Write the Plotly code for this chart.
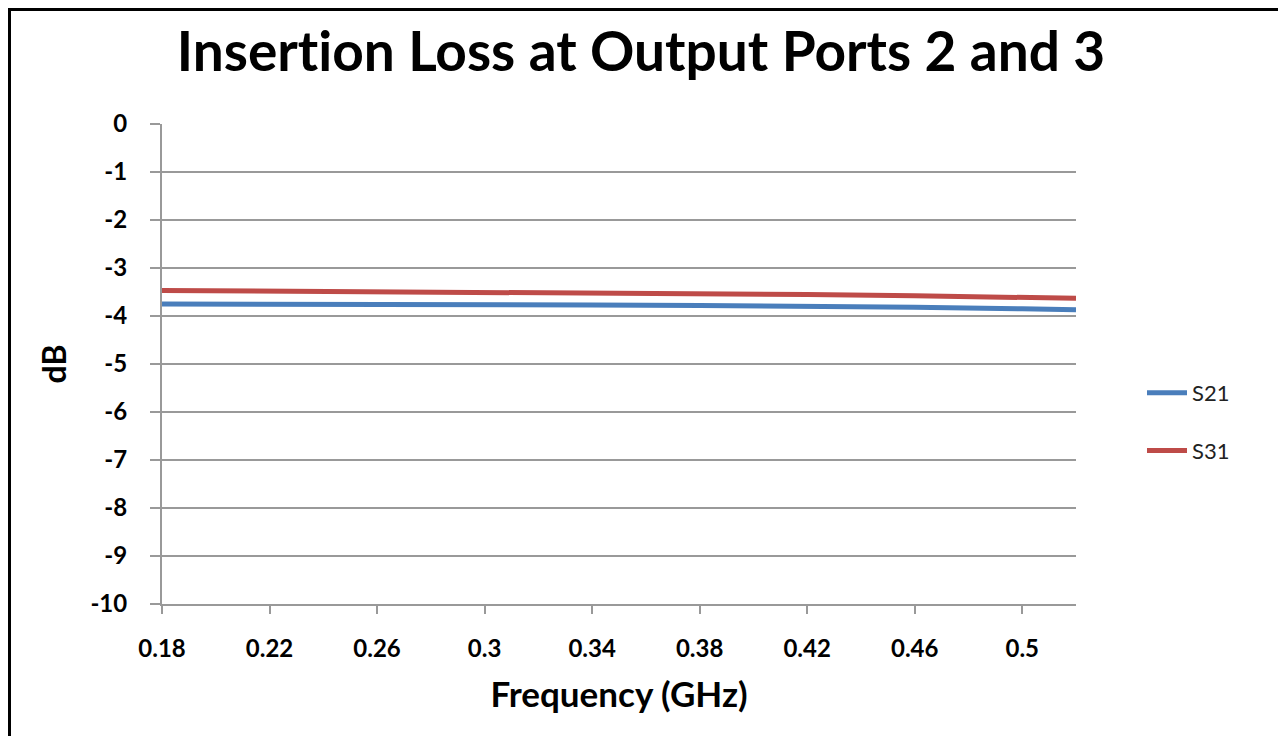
import plotly.graph_objects as go

freq = [0.18, 0.22, 0.26, 0.30, 0.34, 0.38, 0.42, 0.46, 0.50, 0.52]
s21 = [-3.75, -3.75, -3.76, -3.76, -3.77, -3.78, -3.79, -3.82, -3.85, -3.87]
s31 = [-3.47, -3.48, -3.49, -3.51, -3.52, -3.53, -3.55, -3.58, -3.61, -3.63]
x_ticks = [0.18, 0.22, 0.26, 0.30, 0.34, 0.38, 0.42, 0.46, 0.50]
x_tick_labels = ["0.18", "0.22", "0.26", "0.3", "0.34", "0.38", "0.42", "0.46", "0.5"]
y_ticks = list(range(0, -11, -1))
y_tick_labels = [str(v) for v in y_ticks]

FONT = "Lato"
OFF = 8  # page body margin
W, H = 1286 - OFF, 736 - OFF
L, R, T, B = 162 - OFF, 1076 - OFF, 124 - OFF, 604 - OFF

fig = go.Figure()
fig.add_trace(go.Scatter(x=freq, y=s21, mode="lines", name="S21", legendgroup="a",
                         line=dict(color="#4a7ebb", width=5)))
fig.add_trace(go.Scatter(x=freq, y=s31, mode="lines", name="S31", legendgroup="b",
                         line=dict(color="#be4b48", width=5)))

pw, ph = R - L, B - T
fig.add_shape(type="rect", xref="paper", yref="paper",
              x0=(1.5 - L) / pw, x1=(W + 20 - L) / pw,
              y0=(B - (H + 20)) / ph, y1=(B - 1.5) / ph,
              line=dict(color="black", width=3), fillcolor="rgba(0,0,0,0)")

fig.update_layout(
    width=W, height=H,
    margin=dict(l=L, r=W - R, t=T, b=H - B),
    paper_bgcolor="white", plot_bgcolor="white",
    title=dict(text="<b>Inser<span style='font-variant-ligatures:none'>t</span>ion Loss at Output Ports 2 and 3</b>",
               x=(641 - OFF) / W, xanchor="center", y=1 - (52 - OFF) / H, yanchor="middle",
               font=dict(family=FONT, size=55, color="black")),
    legend=dict(x=(1142 - OFF - L) / pw, y=(B - (422 - OFF)) / ph, xanchor="left", yanchor="middle",
                font=dict(family=FONT, size=22, color="#222"),
                tracegroupgap=26, itemwidth=40, bgcolor="rgba(0,0,0,0)"),
    showlegend=True,
)
fig.update_xaxes(
    range=[0.18, 0.52], tickvals=x_ticks,
    ticktext=["<b>" + t + "</b>" for t in x_tick_labels],
    showgrid=False, zeroline=False, showline=True, linecolor="#999", linewidth=2,
    ticks="outside", ticklen=8, tickcolor="#999", tickwidth=2,
    ticklabelstandoff=14,
    tickfont=dict(family=FONT, size=24, color="black"),
    title=dict(text="<b>Frequency (GHz)</b>", standoff=22,
               font=dict(family=FONT, size=35, color="black")),
)
fig.update_yaxes(
    range=[-10, 0], tickvals=y_ticks,
    ticktext=["<b>" + t + "</b>" for t in y_tick_labels],
    showgrid=True, gridcolor="#999", gridwidth=2,
    zeroline=False, showline=True, linecolor="#999", linewidth=2,
    ticks="outside", ticklen=10, tickcolor="#999", tickwidth=2,
    ticklabelstandoff=18,
    tickfont=dict(family=FONT, size=24, color="black"),
    title=dict(text="<b>dB</b>", standoff=14,
               font=dict(family=FONT, size=32, color="black")),
)
fig.write_html("out.html")
